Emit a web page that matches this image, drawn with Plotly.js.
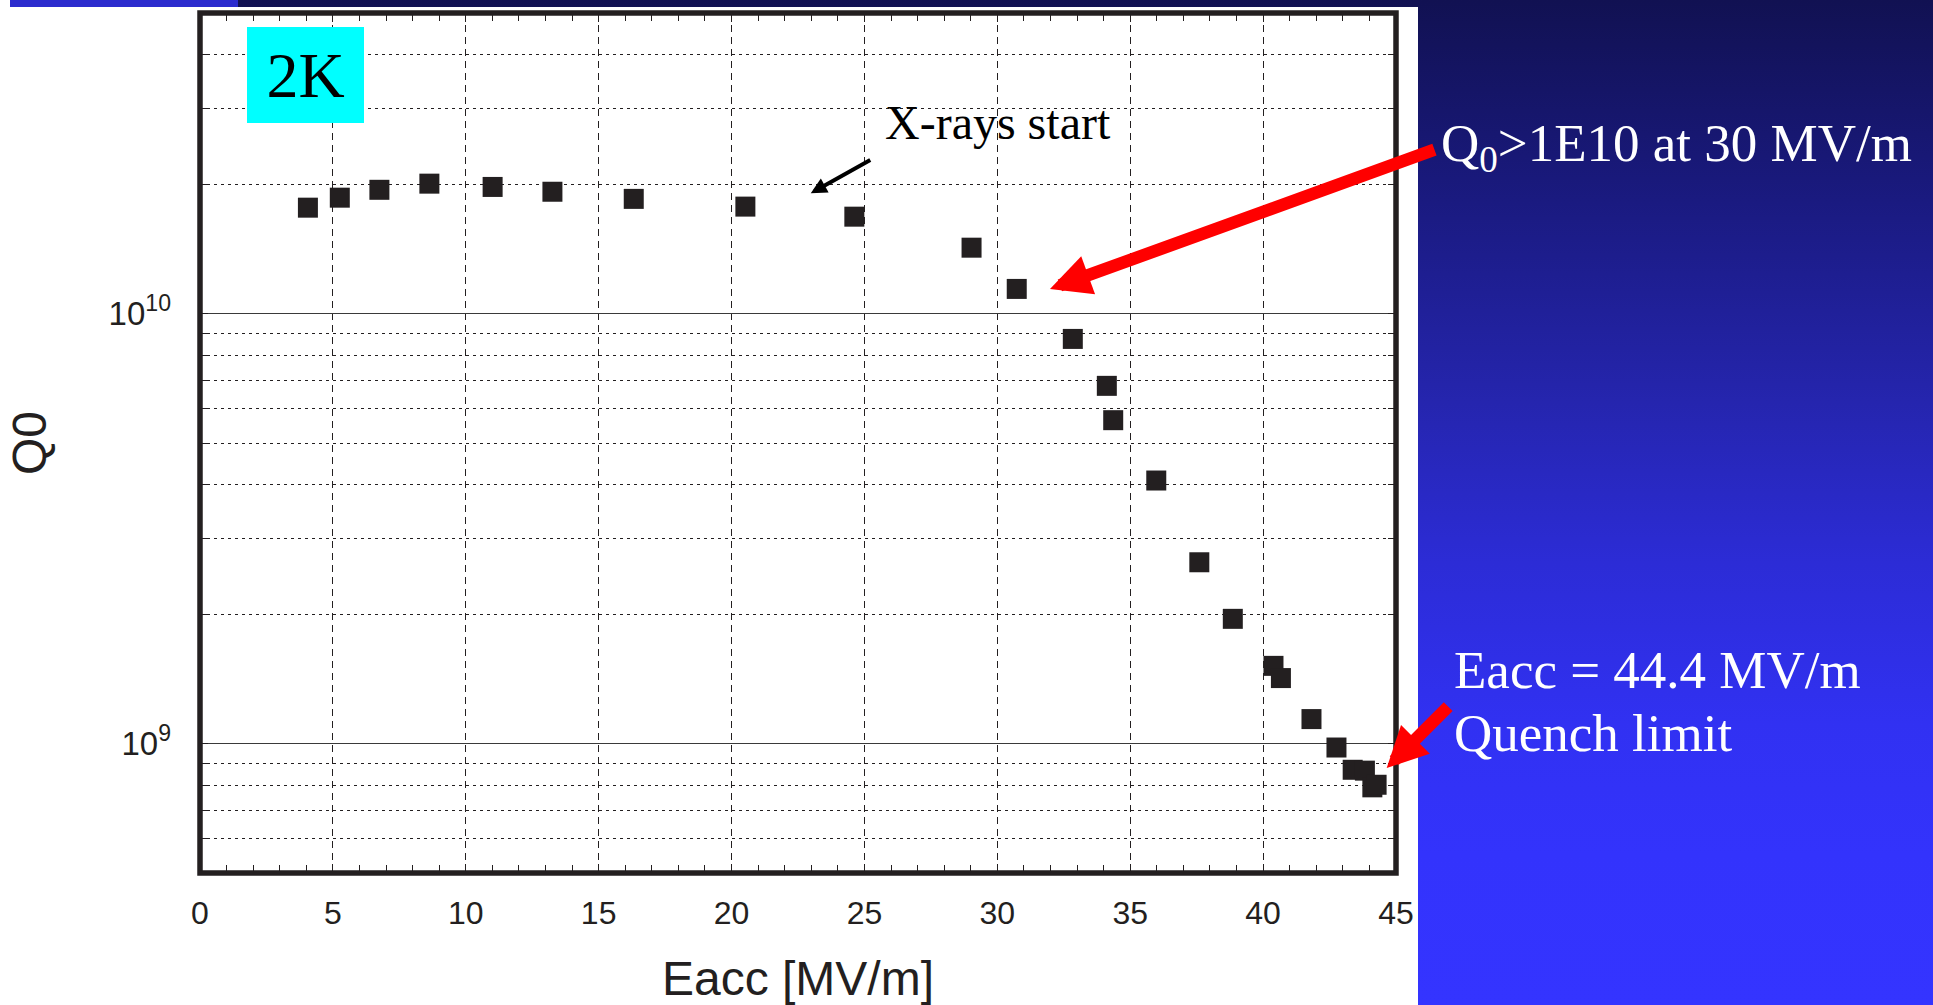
<!DOCTYPE html>
<html><head><meta charset="utf-8">
<script src="https://cdn.plot.ly/plotly-3.0.1.min.js"></script>
<style>
html,body{margin:0;padding:0;width:1933px;height:1005px;overflow:hidden;background:#fff;}
#bg{position:absolute;left:0;top:0;width:1933px;height:1005px;background:linear-gradient(to bottom,#111152 0%,#1a1a80 20%,#2525ae 40%,#2c2cd6 56%,#3131f2 72%,#3333fc 85%,#3434ff 100%);}
#paper{position:absolute;left:0;top:7px;width:1418px;height:998px;background:#fff;}
#corner{position:absolute;left:0;top:0;width:10px;height:7px;background:#fff;}
#strip{position:absolute;left:10px;top:0;width:228px;height:7px;background:#2c2cce;}
#chart{position:absolute;left:0;top:0;width:1933px;height:1005px;}
</style></head><body>
<div id="bg"></div><div id="paper"></div><div id="corner"></div><div id="strip"></div>
<div id="chart"></div>
<script>
// Measured data: accelerating gradient (MV/m) and quality factor Q0 at 2K
const eacc = [4.06, 5.26, 6.75, 8.63, 11.01, 13.26, 16.32, 20.52, 24.62, 29.03, 30.73, 32.84,
              34.12, 34.36, 35.98, 37.60, 38.86, 40.39, 40.67, 41.82, 42.76, 43.37, 43.83, 44.11, 44.27];
const q0 = [1.763e10, 1.86e10, 1.94e10, 2.005e10, 1.97e10, 1.92e10, 1.848e10, 1.773e10, 1.68e10, 1.423e10, 1.141e10, 8.73e9,
            6.79e9, 5.65e9, 4.09e9, 2.64e9, 1.95e9, 1.516e9, 1.42e9, 1.14e9, 9.79e8, 8.69e8, 8.65e8, 7.91e8, 8.02e8];

const yTickVals = [1e9, 1e10];
const yTickText = ['10<sup>9</sup>', '10<sup>10</sup>'];
const yMinorVals = [5e8, 6e8, 7e8, 8e8, 9e8, 2e9, 3e9, 4e9, 5e9, 6e9, 7e9, 8e9, 9e9, 2e10, 3e10, 4e10];
const yRange = [5e8, 5e10];
const xRange = [0, 45];

// annotation anchor points (data values the arrows point to)
const xrayPoint = {x: 22.98, q: 1.905e10};
const q30Point = {x: 31.98, q: 1.14e10};
const quenchPoint = {x: 44.65, q: 8.77e8};

const ink = '#231f20';
const sans = 'Liberation Sans, Arial, sans-serif';
const serif = 'Liberation Serif, Times New Roman, serif';

const trace = {
  x: eacc, y: q0, type: 'scatter', mode: 'markers',
  marker: {symbol: 'square', size: 20, color: ink, line: {width: 0}},
  hoverinfo: 'skip', showlegend: false, cliponaxis: false
};

const layout = {
  width: 1933, height: 1005,
  margin: {l: 200, r: 537, t: 13, b: 132, pad: 0},
  paper_bgcolor: 'rgba(0,0,0,0)',
  plot_bgcolor: '#ffffff',
  showlegend: false,
  xaxis: {
    range: xRange, tick0: 0, dtick: 5,
    ticks: 'inside', ticklen: 9, tickwidth: 1, tickcolor: ink,
    mirror: 'allticks', showline: false, zeroline: false,
    showgrid: true, gridcolor: ink, gridwidth: 1, griddash: '7px,5px',
    tickfont: {family: sans, size: 32, color: ink},
    ticklabelstandoff: 18,
    minor: {tick0: 0, dtick: 1, ticks: 'inside', ticklen: 8, tickwidth: 1, tickcolor: ink, showgrid: false},
    title: {text: 'Eacc [MV/m]', font: {family: sans, size: 48, color: ink}, standoff: 31}
  },
  yaxis: {
    type: 'log', range: [Math.log10(yRange[0]), Math.log10(yRange[1])],
    tickmode: 'array', tickvals: yTickVals, ticktext: yTickText,
    ticks: 'inside', ticklen: 8, tickwidth: 1, tickcolor: ink,
    mirror: 'allticks', showline: false, zeroline: false,
    showgrid: true, gridcolor: '#3a3a3a', gridwidth: 1,
    tickfont: {family: sans, size: 33, color: ink},
    ticklabelstandoff: 28,
    minor: {tickmode: 'array', tickvals: yMinorVals, ticks: 'inside', ticklen: 8, tickwidth: 1, tickcolor: ink,
            showgrid: true, gridcolor: ink, gridwidth: 1, griddash: '3px,4px'},
    title: {text: 'Q0', font: {family: sans, size: 48, color: ink}, standoff: 46}
  },
  shapes: [
    {type: 'rect', xref: 'paper', yref: 'paper', x0: 0, x1: 1, y0: 0, y1: 1,
     line: {color: ink, width: 5.5}, fillcolor: 'rgba(0,0,0,0)', layer: 'above'}
  ],
  annotations: [
    {xref: 'paper', yref: 'paper', x: 0.0882, y: 0.9279, xanchor: 'center', yanchor: 'middle',
     text: '2K', showarrow: false, bgcolor: '#00ffff', width: 117, height: 96, borderpad: 0, borderwidth: 0,
     font: {family: serif, size: 64, color: '#000000'}},
    {xref: 'paper', yref: 'paper', x: 0.6672, y: 0.8727, xanchor: 'center', yanchor: 'middle',
     text: 'X-rays start', showarrow: false, borderpad: 0,
     font: {family: serif, size: 48, color: '#000000'}},
    {xref: 'x', yref: 'y', x: xrayPoint.x, y: Math.log10(xrayPoint.q), text: '', showarrow: true,
     ax: 61, ay: -34, arrowhead: 2, arrowsize: 0.8, arrowwidth: 4, arrowcolor: '#000000'},
    {xref: 'x', yref: 'y', x: q30Point.x, y: Math.log10(q30Point.q), text: '', showarrow: true,
     ax: 386, ay: -140, arrowhead: 2, arrowsize: 0.65, arrowwidth: 12.5, arrowcolor: '#ff0000'},
    {xref: 'x', yref: 'y', x: quenchPoint.x, y: Math.log10(quenchPoint.q), text: '', showarrow: true,
     ax: 63, ay: -63, arrowhead: 2, arrowsize: 0.65, arrowwidth: 12.5, arrowcolor: '#ff0000'},
    {xref: 'paper', yref: 'paper', x: 1.0368, y: 0.8442, xanchor: 'left', yanchor: 'middle',
     text: 'Q<sub>0</sub>&gt;1E10 at 30 MV/m', showarrow: false, borderpad: 0,
     font: {family: serif, size: 53, color: '#ffffff'}},
    {xref: 'paper', yref: 'paper', x: 1.0473, y: 0.2360, xanchor: 'left', yanchor: 'middle',
     text: 'Eacc = 44.4 MV/m', showarrow: false, borderpad: 0,
     font: {family: serif, size: 53, color: '#ffffff'}},
    {xref: 'paper', yref: 'paper', x: 1.0473, y: 0.1630, xanchor: 'left', yanchor: 'middle',
     text: 'Quench limit', showarrow: false, borderpad: 0,
     font: {family: serif, size: 53, color: '#ffffff'}}
  ]
};

Plotly.newPlot('chart', [trace], layout, {staticPlot: true, displayModeBar: false});
</script>
</body></html>
